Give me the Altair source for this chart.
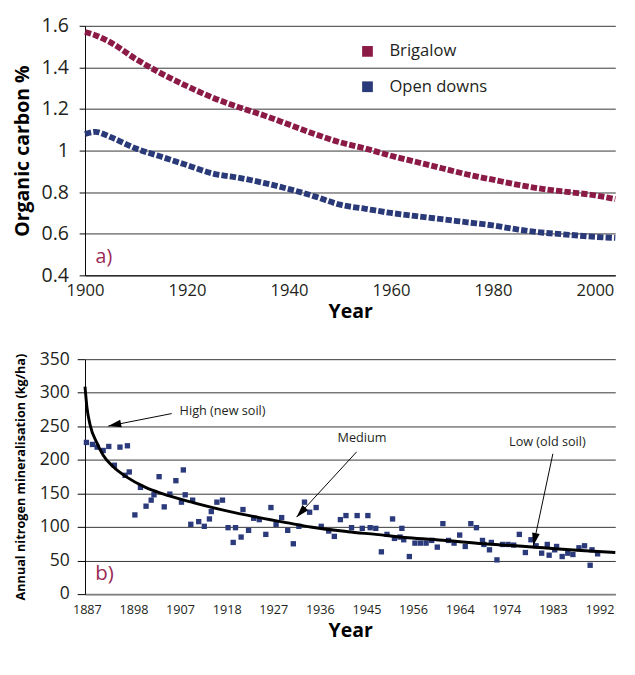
import altair as alt
import pandas as pd

FONT = "Open Sans"
INK = "#231F20"

# ---------- panel a) organic carbon ----------
years_a = [1900, 1902, 1905, 1910, 1915, 1920, 1925, 1930, 1935, 1940, 1945, 1950,
           1955, 1960, 1965, 1970, 1975, 1980, 1985, 1990, 1995, 2000, 2004]
brigalow = [1.57, 1.555, 1.52, 1.44, 1.37, 1.31, 1.255, 1.21, 1.17, 1.125, 1.08, 1.04,
            1.01, 0.975, 0.945, 0.915, 0.885, 0.86, 0.835, 0.815, 0.80, 0.785, 0.767]
open_downs = [1.08, 1.09, 1.065, 1.01, 0.97, 0.93, 0.89, 0.87, 0.845, 0.815, 0.78, 0.74,
              0.72, 0.70, 0.685, 0.67, 0.655, 0.64, 0.62, 0.605, 0.595, 0.585, 0.58]
series_names = ["Brigalow", "Open downs"]
series_colors = ["#8B1A46", "#2A3A78"]
x_ticks_a = [1900, 1920, 1940, 1960, 1980, 2000]
y_ticks_a = [0.4, 0.6, 0.8, 1.0, 1.2, 1.4, 1.6]

# legend placement (in the panel's own data units)
legend_key_year = 1955.4
legend_text_year = 1959.7
legend_rows_oc = [1.477, 1.307]

# ---------- panel b) nitrogen mineralisation ----------
year_labels_b = ["1887", "1898", "1907", "1918", "1927", "1936", "1945", "1956",
                 "1964", "1974", "1983", "1992"]
obs_pos = [-0.1, 1.2, 2.2, 3.5, 4.7, 5.9, 7.1, 8.2, 8.7, 9.1, 10.3, 11.5, 12.7, 13.8, 14.4,
           15.5, 16.6, 17.8, 19.1, 20.3, 20.7, 21.1, 22.3, 22.7, 24.0, 25.2, 26.3, 26.7,
           27.9, 29.1, 30.3, 31.4, 31.9, 33.1, 33.5, 34.7, 35.8, 37.0, 38.4, 39.5, 40.6,
           41.8, 43.1, 44.3, 45.5, 46.7, 47.8, 49.2, 50.3, 51.9, 53.1, 54.4, 55.6, 56.8,
           58.0, 59.1, 60.3, 60.8, 62.0, 63.2, 64.4, 65.6, 66.0, 67.2, 67.6, 68.0, 69.2,
           70.4, 71.6, 72.8, 74.0, 75.2, 76.4, 77.6, 78.8, 80.0, 81.2, 82.4, 83.6, 84.9,
           85.2, 86.4, 86.8, 88.0, 89.2, 90.4, 91.6, 92.8, 94.1, 95.3, 96.4, 97.6, 98.8,
           99.2, 100.4, 100.8, 102.0, 103.2, 104.3, 105.6, 106.8, 108.0, 108.4, 109.6]
obs_val = [226, 223, 219, 214, 220, 192, 219, 177, 221, 182, 118, 159, 131, 140, 148,
           175, 130, 149, 169, 137, 185, 148, 104, 140, 108, 101, 112, 123, 137, 140,
           99, 77, 99, 85, 126, 95, 113, 111, 89, 129, 104, 114, 95, 75, 101, 137, 122,
           129, 101, 94, 86, 111, 117, 99, 117, 98, 117, 99, 98, 63, 89, 112, 83, 85, 98,
           81, 56, 76, 76, 76, 80, 70, 105, 80, 76, 88, 71, 105, 99, 80, 74, 66, 77, 51,
           74, 74, 73, 89, 62, 81, 72, 61, 74, 58, 66, 71, 56, 61, 59, 69, 72, 43, 66, 60]
fit_pos = [-0.4, 0, 0.7, 2.1, 3.5, 5.6, 8.4, 12.6, 16, 23, 30, 37, 44, 48, 56, 62, 69,
           77, 85, 92, 98, 106, 113.4]
fit_val = [309, 279, 252, 226, 207, 190, 175, 159, 150, 136, 124, 114, 105, 100, 93, 89,
           84, 80, 75, 72, 69, 65, 62]
y_ticks_b = [0, 50, 100, 150, 200, 250, 300, 350]

ann_text = ["High (new soil)", "Medium", "Low (old soil)"]
ann_text_pos = [19.9, 53.8, 90.6]
ann_text_val = [272, 233, 226]
ann_from_pos = [18.2, 57.9, 100.0]
ann_from_val = [269, 212, 209]
ann_tip_pos = [4.6, 45.0, 95.8]
ann_tip_val = [250.4, 114.7, 71.9]
ann_angle = [258.7, 222.4, 191.8]

# ---------- build panel a ----------
n = len(years_a)
df_a = pd.DataFrame({
    "Year": years_a * 2,
    "OC": brigalow + open_downs,
    "Site": [series_names[0]] * n + [series_names[1]] * n,
})
df_leg = pd.DataFrame({"Site": series_names, "OC": legend_rows_oc,
                       "kx": [legend_key_year] * 2, "tx": [legend_text_year] * 2})

xs_a = alt.Scale(domain=[1900, 2004], nice=False, zero=False)
ys_a = alt.Scale(domain=[0.4, 1.6], nice=False, zero=False)
cs_a = alt.Scale(domain=series_names, range=series_colors)
ax_a_x = alt.Axis(values=x_ticks_a, format="d", grid=False, ticks=False, labelFlush=False,
                  domainColor="#000", labelFontSize=17, labelPadding=8,
                  labelColor=INK, labelFont=FONT,
                  title="Year", titleFontSize=20, titleFontWeight="bold",
                  titleFont=FONT, titleColor="#000", titlePadding=3)
ax_a_y = alt.Axis(values=y_ticks_a, format="~g", grid=True, gridColor="#333",
                  tickColor="#000", tickSize=6, domainColor="#000", labelFlush=False,
                  labelFontSize=20, labelPadding=11, labelColor=INK, labelFont=FONT,
                  title="Organic carbon %", titleFontSize=20, titleFontWeight="bold",
                  titleFont=FONT, titleColor="#000", titlePadding=9)


def ax(field):
    return alt.X(field, type="quantitative", scale=xs_a, axis=ax_a_x)


def ay(field):
    return alt.Y(field, type="quantitative", scale=ys_a, axis=ax_a_y)


lines = alt.Chart(df_a).mark_line(
    strokeWidth=6, strokeDash=[6.5, 2.2], strokeCap="butt", interpolate="monotone"
).encode(x=ax("Year"), y=ay("OC"),
         color=alt.Color("Site:N", scale=cs_a, legend=None))

leg_keys = alt.Chart(df_leg).mark_square(size=121, opacity=1).encode(
    x=ax("kx"), y=ay("OC"), color=alt.Color("Site:N", scale=cs_a, legend=None))
leg_text = alt.Chart(df_leg).mark_text(
    fontSize=17, font=FONT, color=INK, align="left", baseline="middle"
).encode(x=ax("tx"), y=ay("OC"), text="Site:N")

lab_a = alt.Chart(pd.DataFrame({"Year": [1903.7], "OC": [0.486], "t": ["a)"]})).mark_text(
    fontSize=20, font=FONT, color="#9A2A55", align="center", baseline="middle"
).encode(x=ax("Year"), y=ay("OC"), text="t:N")

top = alt.layer(lines, leg_keys, leg_text, lab_a).properties(width=544, height=256)

# ---------- build panel b ----------
df_obs = pd.DataFrame({"pos": obs_pos, "val": obs_val})
df_fit = pd.DataFrame({"pos": fit_pos, "val": fit_val})
df_ann = pd.DataFrame({
    "text": ann_text, "tp": ann_text_pos, "tv": ann_text_val,
    "fp": ann_from_pos, "fv": ann_from_val,
    "hp": ann_tip_pos, "hv": ann_tip_val, "ang": ann_angle,
})

label_expr = "[" + ",".join("'%s'" % s for s in year_labels_b) + "][round(datum.value/10)]"
xs_b = alt.Scale(domain=[-0.4, 113.4], nice=False, zero=False)
ys_b = alt.Scale(domain=[0, 350], nice=False)
ax_b_x = alt.Axis(values=[10 * i for i in range(len(year_labels_b))],
                  labelExpr=label_expr, grid=False, ticks=False, labelFlush=False,
                  domainColor="#808080", domainWidth=2,
                  labelFontSize=13, labelPadding=10, labelColor=INK, labelFont=FONT,
                  title="Year", titleFontSize=20, titleFontWeight="bold",
                  titleFont=FONT, titleColor="#000", titlePadding=4)
ax_b_y = alt.Axis(values=y_ticks_b, grid=True, gridColor="#333", labelFlush=False,
                  tickColor="#000", tickSize=8, domainColor="#000",
                  labelFontSize=18, labelPadding=8, labelColor=INK, labelFont=FONT,
                  title="Annual nitrogen mineralisation (kg/ha)", titleFontSize=13,
                  titleFontWeight="bold", titleFont=FONT, titleColor="#000",
                  titlePadding=12)


def bx(field):
    return alt.X(field, type="quantitative", scale=xs_b, axis=ax_b_x)


def by(field):
    return alt.Y(field, type="quantitative", scale=ys_b, axis=ax_b_y)


pts = alt.Chart(df_obs).mark_square(size=30, color="#2B3A7A", opacity=1).encode(
    x=bx("pos"), y=by("val"))
fit = alt.Chart(df_fit).mark_line(color="#000", strokeWidth=3, interpolate="monotone").encode(
    x=bx("pos"), y=by("val"))
shafts = alt.Chart(df_ann).mark_rule(color="#000", strokeWidth=1).encode(
    x=bx("fp"), x2="hp", y=by("fv"), y2="hv")
heads = alt.Chart(df_ann).mark_point(
    shape="M0,0L-0.3,1L0.3,1Z", filled=True, size=700, color="#000", opacity=1
).encode(x=bx("hp"), y=by("hv"), angle=alt.Angle("ang:Q", scale=None))
texts = alt.Chart(df_ann).mark_text(
    fontSize=13, font=FONT, color=INK, align="left", baseline="middle"
).encode(x=bx("tp"), y=by("tv"), text="text:N")
lab_b = alt.Chart(pd.DataFrame({"pos": [3.8], "val": [30], "t": ["b)"]})).mark_text(
    fontSize=21, font=FONT, color="#9A2A55", align="center", baseline="middle"
).encode(x=bx("pos"), y=by("val"), text="t:N")

bottom = alt.layer(pts, fit, shafts, heads, texts, lab_b).properties(width=544, height=241)

chart = alt.vconcat(top, bottom, spacing=30).properties(
    padding={"left": 4, "top": 0, "right": 0, "bottom": 0},
    background="white",
).configure_view(stroke=None)

chart.save("out.html", embed_options={"renderer": "svg", "actions": False})
